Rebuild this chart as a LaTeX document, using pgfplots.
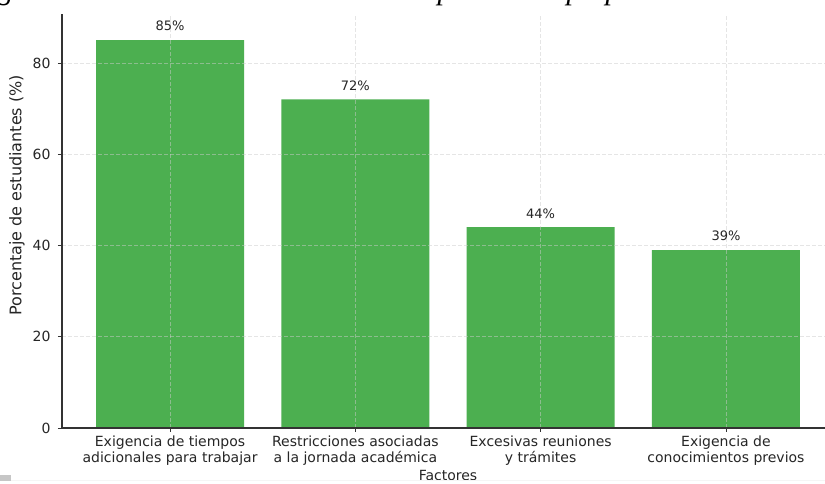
\documentclass[border=0pt]{standalone}
\usepackage{fontspec}
\setmainfont{DejaVu Sans}
\newfontfamily\capfont{Liberation Serif}
\usepackage{pgfplots}
\pgfplotsset{compat=1.18}
\definecolor{barG}{HTML}{4CAF50}
\definecolor{txt}{HTML}{262626}
\begin{document}
\begin{tikzpicture}[x=1pt,y=1pt]
\useasboundingbox (0,0) rectangle (825,484);
\fill[white] (0,0) rectangle (825,484);
\begin{scope}
\clip (0,0) rectangle (825,469);
\begin{axis}[
  at={(62pt,56pt)}, anchor=south west,
  scale only axis, width=772pt, height=465.4pt,
  xmin=-0.583, xmax=3.583, ymin=0, ymax=102,
  xtick={0,1,2,3},
  xticklabels={Exigencia de tiempos\\adicionales para trabajar,Restricciones asociadas\\a la jornada académica,Excesivas reuniones\\y trámites,Exigencia de\\conocimientos previos},
  ytick={0,20,40,60,80,100},
  xtick pos=bottom, ytick pos=left,
  tick align=outside, major tick length=4pt,
  tick style={black!80, line width=0.9pt},
  axis line style={black!80, line width=1.1pt},
  grid=major,
  major grid style={dash pattern=on 4pt off 2pt, color=gray!40, line width=0.7pt, opacity=0.5},
  axis on top,
  /pgf/number format/assume math mode=true,
  xticklabel style={align=center, font=\fontsize{14}{16}\selectfont, text=txt},
  yticklabel style={font=\fontsize{14}{15}\selectfont, text=txt, xshift=-4pt},
  xlabel={Factores},
  xlabel style={at={(rel axis cs:0.5,0)}, anchor=base, yshift=-53pt, font=\fontsize{14}{16}\selectfont, text=txt},
  ylabel={Porcentaje de estudiantes (\%)},
  ylabel style={at={(rel axis cs:-0.0583,0.5)}, anchor=center, font=\fontsize{16}{18}\selectfont, text=txt},
  point meta=explicit symbolic,
  nodes near coords,
  every node near coord/.append style={font=\fontsize{13}{15}\selectfont, text=txt, yshift=5.5pt},
]
\addplot[ybar, bar width=148pt, fill=barG, draw=none] coordinates {
  (0,85) [85\%]
  (1,72) [72\%]
  (2,44) [44\%]
  (3,39) [39\%]
};
\end{axis}
\end{scope}
\begin{scope}[font=\capfont\itshape\fontsize{30}{34}\selectfont]
\node[anchor=base, inner sep=0pt] at (6,484.5) {g};
\node[anchor=base, inner sep=0pt] at (445,484.5) {p};
\node[anchor=base, inner sep=0pt] at (574,484.5) {p};
\node[anchor=base, inner sep=0pt] at (613,484.5) {p};
\end{scope}
\fill[gray!45] (0,3) rectangle (11,9);
\draw[gray!8, line width=1pt] (11,3.5) -- (825,3.5);
\end{tikzpicture}
\end{document}
